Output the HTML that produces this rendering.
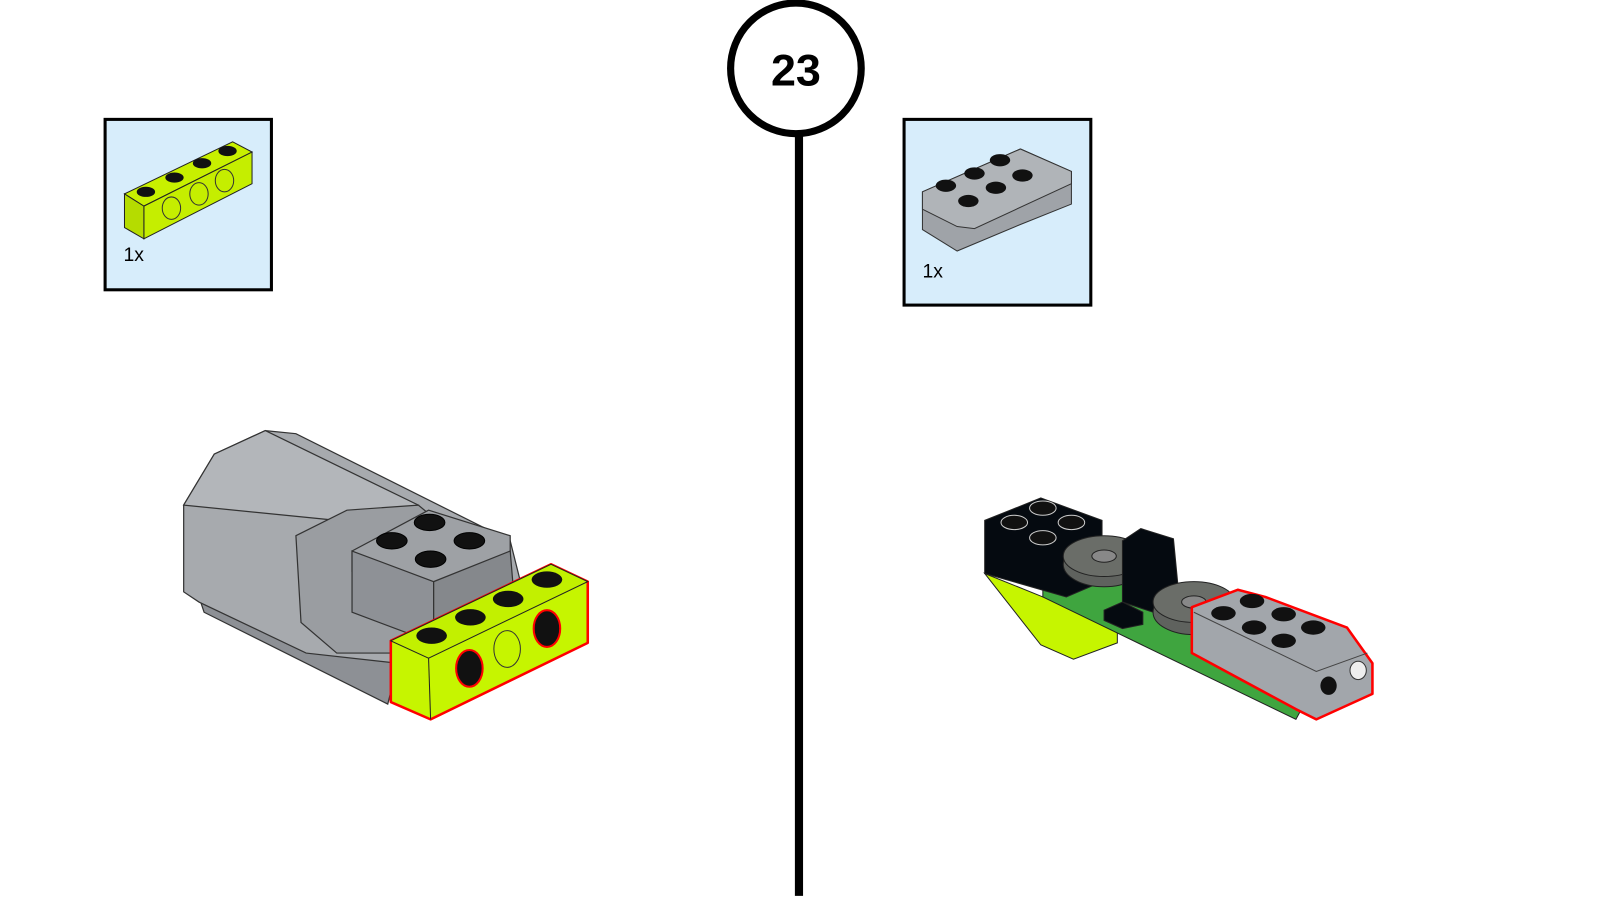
<!DOCTYPE html>
<html><head><meta charset="utf-8"><style>
html,body{margin:0;padding:0;background:#fff;width:1600px;height:900px;overflow:hidden}
svg{display:block}
text{font-family:"Liberation Sans",sans-serif}
</style></head><body>
<svg width="1600" height="900" viewBox="0 0 1600 900" xmlns="http://www.w3.org/2000/svg">
<g transform="scale(1.0204)">
<!-- step -->
<line x1="783" y1="128" x2="783" y2="878" stroke="#000" stroke-width="8"/>
<circle cx="780" cy="67" r="64" fill="#fff" stroke="#000" stroke-width="7"/>
<text x="780" y="84" font-size="44" font-weight="bold" text-anchor="middle">23</text>

<!-- left parts box -->
<rect x="103" y="117" width="163" height="167" fill="#d7edfb" stroke="#000" stroke-width="3"/>
<g stroke="#222" stroke-width="1">
<polygon points="122,190 228,139 247,149 141,202" fill="#c8f000"/>
<polygon points="141,202 247,149 247,180 141,234" fill="#c5ee00"/>
<polygon points="122,190 141,202 141,234 122,223" fill="#b5dc00"/>
</g>
<g fill="#111"><ellipse cx="143" cy="188" rx="9" ry="5"/><ellipse cx="171" cy="174" rx="9" ry="5"/><ellipse cx="198" cy="160" rx="9" ry="5"/><ellipse cx="223" cy="148" rx="9" ry="5"/></g>
<g fill="none" stroke="#333"><ellipse cx="168" cy="204" rx="9" ry="11"/><ellipse cx="195" cy="190" rx="9" ry="11"/><ellipse cx="220" cy="177" rx="9" ry="11"/></g>
<text x="121" y="256" font-size="19">1x</text>

<!-- right parts box -->
<rect x="886" y="117" width="183" height="182" fill="#d7edfb" stroke="#000" stroke-width="3"/>
<g stroke="#333" stroke-width="1">
<polygon points="904,188 1000,146 1050,168 1050,200 1000,220 938,246 904,225" fill="#9fa3a8"/>
<polygon points="904,188 1000,146 1050,168 1050,180 955,224 938,222 904,205" fill="#b0b4b8"/>
</g>
<g fill="#111"><ellipse cx="927" cy="182" rx="10" ry="6"/><ellipse cx="955" cy="170" rx="10" ry="6"/><ellipse cx="980" cy="157" rx="10" ry="6"/><ellipse cx="949" cy="197" rx="10" ry="6"/><ellipse cx="976" cy="184" rx="10" ry="6"/><ellipse cx="1002" cy="172" rx="10" ry="6"/></g>
<text x="904" y="272" font-size="19">1x</text>

<!-- left model: motor -->
<g stroke="#333" stroke-width="1.2">
<polygon points="195,585 200,600 380,690 390,650 300,600" fill="#8d9095"/>
<polygon points="180,495 210,445 260,422 290,425 500,530 510,570 480,640 390,650 300,640 195,590 180,580" fill="#a7aaae"/>
<polygon points="180,495 210,445 260,422 410,495 380,520 330,510" fill="#b3b6ba"/>
<polygon points="290,525 340,500 410,495 440,520 440,600 400,640 330,640 295,610" fill="#9a9da1"/>
<polygon points="345,540 420,500 500,525 500,545 425,585 345,560" fill="#9ea1a5"/>
<polygon points="345,540 425,570 425,630 345,600" fill="#8e9196"/>
<polygon points="425,570 500,540 505,600 425,630" fill="#85888c"/>
</g>
<g fill="#111" stroke="#000"><ellipse cx="384" cy="530" rx="15" ry="8"/><ellipse cx="421" cy="512" rx="15" ry="8"/><ellipse cx="460" cy="530" rx="15" ry="8"/><ellipse cx="422" cy="548" rx="15" ry="8"/></g>
<!-- yellow brick -->
<g stroke="#f00" stroke-width="2.5" stroke-linejoin="round">
<polygon points="383,628 540,553 576,570 576,630 422,705 383,688" fill="#c6f500"/>
</g>
<g stroke="#222" stroke-width="1">
<polygon points="383,628 540,553 576,570 420,645" fill="#c2f000"/>
<line x1="420" y1="645" x2="422" y2="705"/>
</g>
<g fill="#111"><ellipse cx="423" cy="623" rx="15" ry="8"/><ellipse cx="461" cy="605" rx="15" ry="8"/><ellipse cx="498" cy="587" rx="15" ry="8"/><ellipse cx="536" cy="568" rx="15" ry="8"/></g>
<g stroke="#333"><ellipse cx="460" cy="655" rx="13" ry="18" fill="#111" stroke="#f00" stroke-width="2"/><ellipse cx="497" cy="636" rx="13" ry="18" fill="#c6f500"/><ellipse cx="536" cy="616" rx="13" ry="18" fill="#111" stroke="#f00" stroke-width="2"/></g>

<!-- right model -->
<g stroke="#222" stroke-width="1">
<polygon points="965,562 1022,585 1095,600 1095,630 1052,646 1020,632" fill="#c6f500"/>
<polygon points="1022,575 1130,560 1300,650 1270,705 1022,585" fill="#3fa53f"/>
<polygon points="965,510 1020,488 1080,510 1080,570 1045,585 965,562" fill="#050a10"/>
<ellipse cx="1082" cy="553" rx="40" ry="22" fill="#5f625e"/>
<ellipse cx="1082" cy="545" rx="40" ry="20" fill="#6a6d68"/>
<ellipse cx="1082" cy="545" rx="12" ry="6" fill="#888"/>
<polygon points="1100,530 1118,518 1150,528 1155,580 1130,600 1100,590" fill="#050a10"/>
<polygon points="1082,598 1100,590 1120,600 1120,612 1100,616 1082,608" fill="#050a10"/>
<ellipse cx="1170" cy="600" rx="40" ry="22" fill="#5f625e"/>
<ellipse cx="1170" cy="590" rx="40" ry="20" fill="#6a6d68"/>
<ellipse cx="1170" cy="590" rx="12" ry="6" fill="#888"/>
</g>
<g fill="#111" stroke="#ccc"><ellipse cx="994" cy="512" rx="13" ry="7"/><ellipse cx="1022" cy="498" rx="13" ry="7"/><ellipse cx="1050" cy="512" rx="13" ry="7"/><ellipse cx="1022" cy="527" rx="13" ry="7"/></g>
<polygon points="1168,595 1213,578 1240,585 1320,615 1345,650 1345,680 1290,705 1270,695 1168,640" fill="#a2a6ab" stroke="#f00" stroke-width="2.5" stroke-linejoin="round"/>
<path d="M1170,600 L1290,658 L1340,640" fill="none" stroke="#444"/>
<g fill="#111"><ellipse cx="1199" cy="601" rx="12" ry="7"/><ellipse cx="1227" cy="589" rx="12" ry="7"/><ellipse cx="1229" cy="615" rx="12" ry="7"/><ellipse cx="1258" cy="602" rx="12" ry="7"/><ellipse cx="1258" cy="628" rx="12" ry="7"/><ellipse cx="1287" cy="615" rx="12" ry="7"/></g>
<ellipse cx="1302" cy="672" rx="8" ry="9" fill="#111"/><ellipse cx="1331" cy="657" rx="8" ry="9" fill="#eee" stroke="#333"/>
</g>
</svg>
</body></html>
